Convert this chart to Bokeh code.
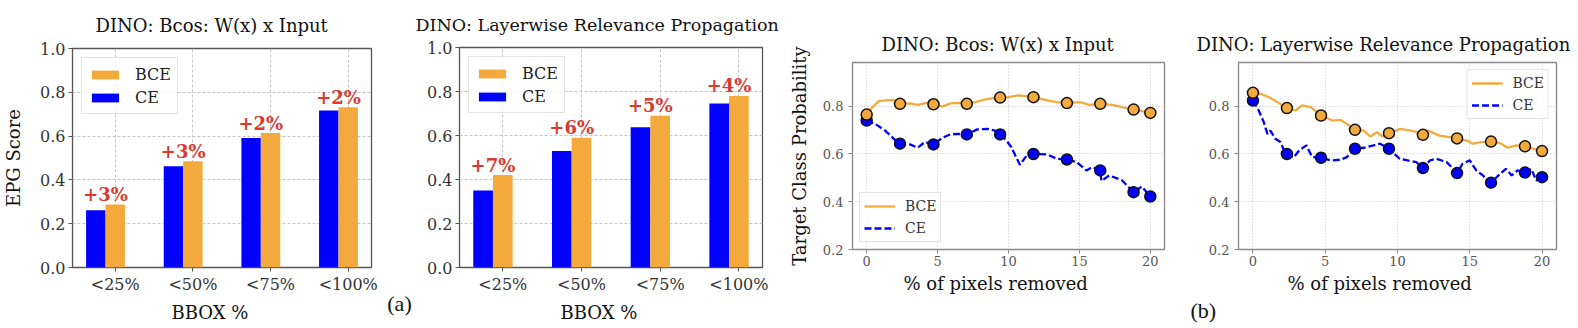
from bokeh.plotting import figure
from bokeh.models import (Range1d, FixedTicker, NumeralTickFormatter, Legend,
                          LegendItem, Title)
from bokeh.layouts import row, column
from bokeh.embed import file_html
from bokeh.resources import INLINE
from bokeh.core.properties import value

# ---------------- data ----------------
categories = ["<25%", "<50%", "<75%", "<100%"]
bcos_ce = [0.261, 0.462, 0.591, 0.717]
bcos_bce = [0.288, 0.485, 0.614, 0.732]
bcos_gain = ["+3%", "+3%", "+2%", "+2%"]
lrp_ce = [0.35, 0.53, 0.637, 0.745]
lrp_bce = [0.42, 0.59, 0.69, 0.78]
lrp_gain = ["+7%", "+6%", "+5%", "+4%"]
bar_y_ticks = [0.0, 0.2, 0.4, 0.6, 0.8, 1.0]

line_x_ticks = [0, 5, 10, 15, 20]
line_y_ticks = [0.2, 0.4, 0.6, 0.8]
marker_x = [0, 2.35, 4.71, 7.06, 9.41, 11.76, 14.12, 16.47, 18.82, 20.0]

# Panel (b) left: DINO Bcos W(x) x Input
bcos_bce_x = [0, 0.4, 0.85, 1.3, 1.9, 2.35, 3.05, 3.6, 4.2, 4.71, 5.35, 5.9, 6.5,
              7.06, 7.65, 8.2, 8.8, 9.41, 10.0, 10.66, 11.2, 11.76, 12.74, 13.4,
              14.12, 15.05, 15.7, 16.47, 17.35, 18.0, 18.82, 19.4, 20.0]
bcos_bce_y = [0.765, 0.795, 0.821, 0.824, 0.826, 0.81, 0.812, 0.806, 0.814, 0.808,
              0.799, 0.812, 0.814, 0.81, 0.817, 0.826, 0.833, 0.836, 0.838, 0.845,
              0.842, 0.838, 0.824, 0.817, 0.813, 0.817, 0.806, 0.81, 0.806, 0.796,
              0.786, 0.779, 0.772]
bcos_bce_m = [0.765, 0.81, 0.808, 0.81, 0.836, 0.838, 0.813, 0.81, 0.786, 0.772]

bcos_ce_x = [0, 0.6, 1.3, 1.9, 2.35, 3.05, 3.6, 4.1, 4.71, 5.35, 5.9, 6.5, 7.06,
             7.8, 8.5, 9.05, 9.41, 9.85, 10.2, 10.8, 11.2, 11.76, 12.74, 13.4,
             14.12, 14.8, 15.5, 15.9, 16.47, 16.55, 17.1, 18.0, 18.82, 19.4, 20.0]
bcos_ce_y = [0.74, 0.726, 0.698, 0.664, 0.643, 0.64, 0.626, 0.65, 0.64, 0.668,
             0.682, 0.684, 0.682, 0.703, 0.705, 0.698, 0.682, 0.657, 0.628, 0.555,
             0.587, 0.60, 0.598, 0.58, 0.577, 0.566, 0.531, 0.545, 0.531, 0.487,
             0.51, 0.49, 0.44, 0.464, 0.422]
bcos_ce_m = [0.74, 0.643, 0.64, 0.682, 0.682, 0.60, 0.577, 0.531, 0.44, 0.422]

# Panel (b) right: DINO Layerwise Relevance Propagation
lrp_bce_x = [0, 0.53, 1.1, 1.7, 2.35, 2.95, 3.4, 4.0, 4.71, 5.5, 6.05, 6.5, 7.06,
             7.67, 8.1, 8.6, 8.95, 9.41, 10.2, 10.7, 11.1, 11.76, 12.1, 12.9, 13.5,
             14.12, 14.8, 15.2, 15.8, 16.47, 17.1, 17.65, 18.2, 18.82, 19.5, 20.0]
lrp_bce_y = [0.856, 0.852, 0.838, 0.817, 0.792, 0.782, 0.803, 0.796, 0.761, 0.74,
             0.743, 0.726, 0.701, 0.698, 0.673, 0.691, 0.673, 0.687, 0.705, 0.70,
             0.696, 0.68, 0.698, 0.677, 0.672, 0.665, 0.656, 0.643, 0.65, 0.652,
             0.645, 0.626, 0.636, 0.632, 0.62, 0.612]
lrp_bce_m = [0.856, 0.792, 0.761, 0.701, 0.687, 0.68, 0.665, 0.652, 0.632, 0.612]

lrp_ce_x = [0, 0.4, 0.75, 1.0, 1.2, 1.55, 1.9, 2.1, 2.35, 2.8, 3.2, 3.7, 4.1, 4.71,
            5.4, 6.05, 6.5, 7.06, 7.67, 8.35, 8.8, 9.41, 9.9, 10.15, 10.7, 11.3,
            11.76, 12.25, 12.7, 13.4, 14.12, 14.5, 15.0, 15.45, 15.9, 16.47, 17.1,
            17.5, 17.9, 18.3, 18.82, 19.25, 19.6, 20.0]
lrp_ce_y = [0.824, 0.782, 0.733, 0.684, 0.698, 0.664, 0.65, 0.622, 0.60, 0.584,
            0.615, 0.636, 0.587, 0.584, 0.573, 0.576, 0.587, 0.622, 0.626, 0.636,
            0.643, 0.622, 0.594, 0.58, 0.573, 0.566, 0.541, 0.573, 0.58, 0.566,
            0.52, 0.559, 0.573, 0.531, 0.51, 0.48, 0.517, 0.538, 0.51, 0.531,
            0.522, 0.538, 0.489, 0.503]
lrp_ce_m = [0.824, 0.60, 0.584, 0.622, 0.622, 0.541, 0.52, 0.48, 0.522, 0.503]

panel_tags = ["(a)", "(b)"]

# ---------------- style ----------------
SERIF = "DejaVu Serif"
TAG_FONT = "Liberation Serif"
ORANGE = "#F4A93C"
BLUE = "#0000FF"
RED = "#D93A2E"
H = 328


def style_common(p, tick_size, tick_color, frame_color, grid_dash):
    p.title.text_font = SERIF
    p.title.text_font_size = "18px"
    p.title.text_font_style = "normal"
    p.title.text_color = "#111111"
    p.title.align = "left"
    p.outline_line_color = frame_color
    p.outline_line_width = 1.3
    for ax in (p.xaxis[0], p.yaxis[0]):
        ax.axis_line_color = None
        ax.major_tick_in = 0
        ax.major_tick_out = 4
        ax.major_tick_line_color = frame_color
        ax.minor_tick_line_color = None
        ax.major_label_text_font = SERIF
        ax.major_label_text_font_size = tick_size
        ax.major_label_text_color = tick_color
        ax.axis_label_text_font = SERIF
        ax.axis_label_text_font_size = "18px"
        ax.axis_label_text_font_style = "normal"
        ax.axis_label_text_color = "#111111"
    for g in (p.xgrid[0], p.ygrid[0]):
        g.grid_line_color = "#c4c4c4"
        g.grid_line_dash = grid_dash
        g.grid_line_width = 1


def bottom_title(p, text, offset, standoff, font=SERIF, size="18px"):
    t = Title(text=text, align="left", offset=offset, standoff=standoff,
              text_font=font, text_font_size=size, text_font_style="normal",
              text_color="#111111")
    p.add_layout(t, "below")


def bar_fig(title, ce, bce, gains, width, bl, br, ylabel, title_offset,
            xlabel_offset):
    p = figure(width=width, height=H, title=title,
               x_range=Range1d(-0.55, 3.3), y_range=Range1d(0, 1.0),
               output_backend="svg", toolbar_location=None,
               min_border_left=bl, min_border_right=br,
               min_border_top=47, min_border_bottom=61)
    style_common(p, "16px", "#333333", "#555555", "3 2")
    p.title.offset = title_offset
    p.title.standoff = 25
    idx = list(range(len(categories)))
    x_ce = [i - 0.25 for i in idx]
    x_lab = [i - 0.125 for i in idx]
    r_ce = p.vbar(x=x_ce, top=ce, bottom=0, width=0.25,
                  fill_color=BLUE, line_color=None)
    r_bce = p.vbar(x=idx, top=bce, bottom=0, width=0.25,
                   fill_color=ORANGE, line_color=None)
    p.text(x=x_lab, y=bce, text=gains, text_font=value(SERIF),
           text_font_style="bold", text_font_size="18px", text_color=RED,
           text_align="center", text_baseline="alphabetic", y_offset=-10)
    p.xaxis.ticker = FixedTicker(ticks=idx)
    p.xaxis.major_label_overrides = {i: c for i, c in zip(idx, categories)}
    p.xaxis.major_label_standoff = 3
    bottom_title(p, "BBOX %", xlabel_offset, 6)
    p.yaxis.ticker = FixedTicker(ticks=bar_y_ticks)
    p.yaxis.formatter = NumeralTickFormatter(format="0.0")
    p.yaxis.major_label_standoff = 3
    if ylabel:
        p.yaxis.axis_label = ylabel
        p.yaxis.axis_label_standoff = 13
    legend = Legend(items=[LegendItem(label="BCE", renderers=[r_bce]),
                           LegendItem(label="CE", renderers=[r_ce])],
                    location="top_left", margin=9, padding=6, spacing=3,
                    glyph_width=34, glyph_height=11, label_height=20,
                    label_standoff=13, label_text_font=SERIF,
                    label_text_font_size="16px", label_text_color="#222222",
                    border_line_color="#cccccc", border_line_width=1,
                    background_fill_alpha=0.8)
    p.add_layout(legend)
    return p


def line_fig(title, bx, by, bm, cx, cy, cm, width, bl, br, ylabel, loc,
             title_offset, xlabel_offset):
    p = figure(width=width, height=H, title=title,
               x_range=Range1d(-1, 21), y_range=Range1d(0.2, 0.983),
               output_backend="svg", toolbar_location=None,
               min_border_left=bl, min_border_right=br,
               min_border_top=62, min_border_bottom=79)
    style_common(p, "13px", "#555555", "#888888", "1 2")
    p.title.offset = title_offset
    p.title.standoff = 16
    r_c = p.line(cx, cy, line_color=BLUE, line_width=2.3, line_dash="7 3")
    p.scatter(marker_x, cm, size=11, fill_color=BLUE, line_color="#111111",
              line_width=1.5)
    r_b = p.line(bx, by, line_color=ORANGE, line_width=2.3)
    p.scatter(marker_x, bm, size=11, fill_color=ORANGE, line_color="#111111",
              line_width=1.5)
    p.xaxis.ticker = FixedTicker(ticks=line_x_ticks)
    p.yaxis.ticker = FixedTicker(ticks=line_y_ticks)
    p.xaxis.major_label_standoff = 2
    bottom_title(p, "% of pixels removed", xlabel_offset, 4)
    p.yaxis.major_label_standoff = 5
    if ylabel:
        p.yaxis.axis_label = ylabel
        p.yaxis.axis_label_standoff = 10
    legend = Legend(items=[LegendItem(label="BCE", renderers=[r_b]),
                           LegendItem(label="CE", renderers=[r_c])],
                    location=loc, margin=7, padding=4, spacing=4,
                    glyph_width=31, glyph_height=18, label_height=18,
                    label_standoff=10, label_text_font=SERIF,
                    label_text_font_size="14px", label_text_color="#333333",
                    border_line_color="#cccccc", border_line_width=1,
                    background_fill_alpha=0.8)
    p.add_layout(legend)
    return p


p1 = bar_fig("DINO: Bcos: W(x) x Input", bcos_ce, bcos_bce, bcos_gain,
             385, 68, 14, "EPG Score", 23, 99)

# narrow strip holding the "(a)" tag between the two bar charts
pa = figure(width=27, height=H, x_range=Range1d(0, 27), y_range=Range1d(0, H),
            x_axis_type=None, y_axis_type=None, output_backend="svg",
            toolbar_location=None, min_border=0)
pa.outline_line_color = None
pa.xgrid.visible = False
pa.ygrid.visible = False
pa.text(x=[14], y=[25], text=[panel_tags[0]], text_font=value(TAG_FONT),
        text_font_size="22px", text_color="#111111", text_align="center",
        text_baseline="middle")

p2 = bar_fig("DINO: Layerwise Relevance Propagation", lrp_ce, lrp_bce, lrp_gain,
             373, 47, 23, None, -44, 101)
p2.title.text_font_size = "17.5px"
p3 = line_fig("DINO: Bcos: W(x) x Input", bcos_bce_x, bcos_bce_y, bcos_bce_m,
              bcos_ce_x, bcos_ce_y, bcos_ce_m, 390, 61, 11,
              "Target Class Probability", "bottom_left", 29, 51)
p4 = line_fig("DINO: Layerwise Relevance Propagation", lrp_bce_x, lrp_bce_y,
              lrp_bce_m, lrp_ce_x, lrp_ce_y, lrp_ce_m, 403, 63, 22, None,
              "top_right", -42, 49)
bottom_title(p4, panel_tags[1], -48, 0, font=TAG_FONT, size="22px")

layout = row(column(p1), column(pa), column(p2), column(p3), column(p4),
             spacing=0)
open("out.html", "w").write(file_html(layout, INLINE))
